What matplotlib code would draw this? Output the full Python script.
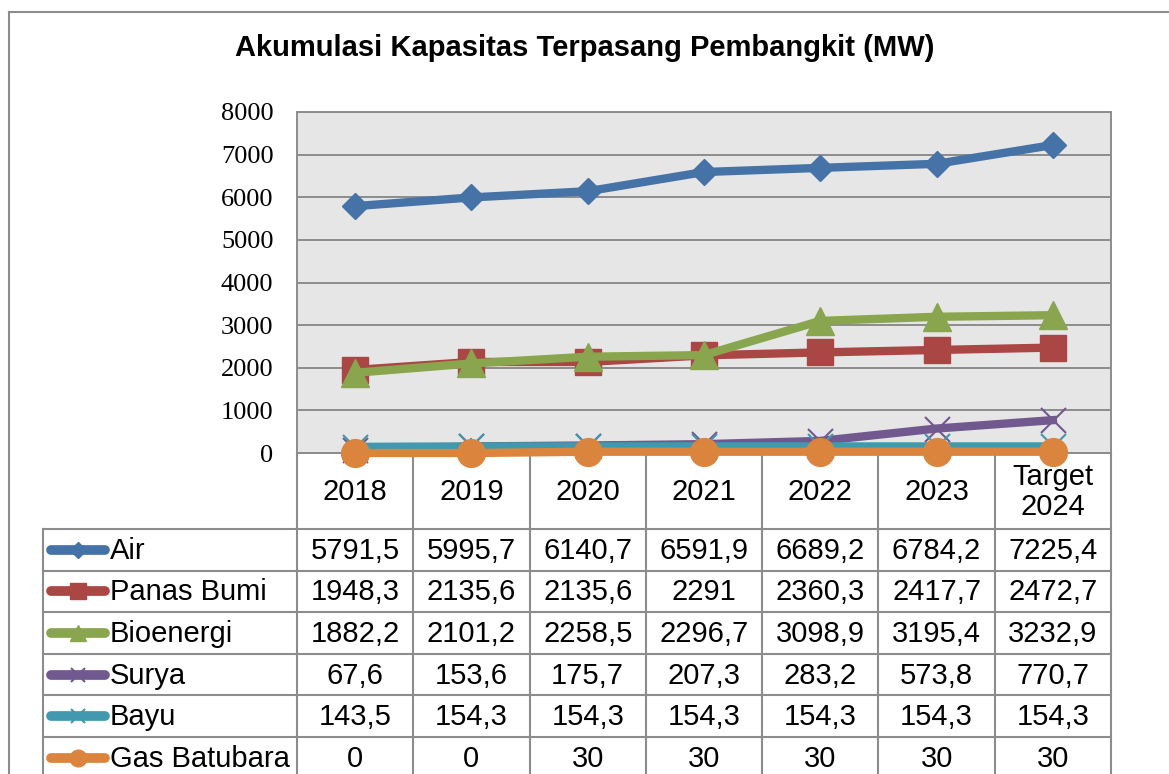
import matplotlib.pyplot as plt
from matplotlib.lines import Line2D

# Chart data
years = ['2018', '2019', '2020', '2021', '2022', '2023', 'Target\n2024']
series_names = ['Air', 'Panas Bumi', 'Bioenergi', 'Surya', 'Bayu', 'Gas Batubara']
air = [5791.5, 5995.7, 6140.7, 6591.9, 6689.2, 6784.2, 7225.4]
panas_bumi = [1948.3, 2135.6, 2135.6, 2291, 2360.3, 2417.7, 2472.7]
bioenergi = [1882.2, 2101.2, 2258.5, 2296.7, 3098.9, 3195.4, 3232.9]
surya = [67.6, 153.6, 175.7, 207.3, 283.2, 573.8, 770.7]
bayu = [143.5, 154.3, 154.3, 154.3, 154.3, 154.3, 154.3]
gas_batubara = [0, 0, 30, 30, 30, 30, 30]
table_text = [
    ['5791,5', '5995,7', '6140,7', '6591,9', '6689,2', '6784,2', '7225,4'],
    ['1948,3', '2135,6', '2135,6', '2291', '2360,3', '2417,7', '2472,7'],
    ['1882,2', '2101,2', '2258,5', '2296,7', '3098,9', '3195,4', '3232,9'],
    ['67,6', '153,6', '175,7', '207,3', '283,2', '573,8', '770,7'],
    ['143,5', '154,3', '154,3', '154,3', '154,3', '154,3', '154,3'],
    ['0', '0', '30', '30', '30', '30', '30'],
]
y_ticks = [0, 1000, 2000, 3000, 4000, 5000, 6000, 7000, 8000]

colors = ['#4572A7', '#AA4643', '#89A54E', '#71588F', '#4198AF', '#DB843D']
values = [air, panas_bumi, bioenergi, surya, bayu, gas_batubara]

W, H = 1169, 774
GRID = '#8c8c8c'
SANS = 'Liberation Sans'

fig = plt.figure(figsize=(W / 100, H / 100), dpi=100)

# pixel geometry of the plot area
px_left, px_right, px_top, px_bottom = 297, 1111, 112, 453
ax = fig.add_axes([px_left / W, 1 - px_bottom / H,
                   (px_right - px_left) / W, (px_bottom - px_top) / H])
ax.set_facecolor('#e6e6e6')
ax.set_xlim(-0.5, len(years) - 0.5)
ax.set_ylim(0, 8000)
ax.set_yticks(y_ticks)
ax.set_yticklabels([str(t) for t in y_ticks], fontfamily='Liberation Serif', fontsize=19)
ax.tick_params(axis='y', length=0, pad=17)
ax.set_xticks([])
for t in y_ticks:
    ax.axhline(t, color=GRID, lw=1.4, zorder=1)
for s in ax.spines.values():
    s.set_color(GRID)
    s.set_linewidth(1.4)

x = list(range(len(years)))
styles = [
    dict(marker='D', markersize=13.5),
    dict(marker='s', markersize=19),
    dict(marker='^', markersize=20),
    dict(marker='x', markersize=18, markeredgewidth=1.5),
    dict(marker='x', markersize=18, markeredgewidth=1.5),
    dict(marker='o', markersize=20),
]
for vals, col, st in zip(values, colors, styles):
    ax.plot(x, vals, color=col, lw=6, markeredgecolor=col, markerfacecolor=col,
            zorder=3, clip_on=False, **st)
    if vals is bayu:
        ax.plot(x, vals, ls='none', marker='|', markersize=12, markeredgewidth=1.5,
                color=col, zorder=3, clip_on=False)

fig.text(585 / W, 1 - 48 / H, 'Akumulasi Kapasitas Terpasang Pembangkit (MW)',
         ha='center', va='center', fontfamily=SANS, fontweight='bold', fontsize=21)

# overlay in pixel coordinates for the data table
ov = fig.add_axes([0, 0, 1, 1], zorder=-1)
ov.set_xlim(0, W)
ov.set_ylim(H, 0)
ov.axis('off')

# outer chart border
ov.plot([9, 9], [12, H], color=GRID, lw=1.5)
ov.plot([9, W], [12, 12], color=GRID, lw=1.5)

col_w = (px_right - px_left) / len(years)
row_h = 41.6
header_bottom = 529
table_left = 43
n_rows = len(series_names)

# vertical lines
for k in range(len(years) + 1):
    xx = px_left + k * col_w
    ov.plot([xx, xx], [px_bottom, H], color=GRID, lw=1.5)
ov.plot([table_left, table_left], [header_bottom, H], color=GRID, lw=1.5)
# horizontal lines
ov.plot([table_left, px_right], [header_bottom, header_bottom], color=GRID, lw=1.5)
for r in range(1, n_rows):
    yy = header_bottom + r * row_h
    ov.plot([table_left, px_right], [yy, yy], color=GRID, lw=1.5)

# header labels
for k, lab in enumerate(years):
    ov.text(px_left + (k + 0.5) * col_w, (px_bottom + header_bottom) / 2 + 1, lab,
            ha='center', va='center', fontfamily=SANS, fontsize=21, linespacing=1.1)

# rows
leg_styles = [
    dict(marker='D', markersize=8),
    dict(marker='s', markersize=12),
    dict(marker='^', markersize=12),
    dict(marker='x', markersize=10, markeredgewidth=1.5),
    dict(marker='x', markersize=10, markeredgewidth=1.5),
    dict(marker='o', markersize=12),
]
for r, name in enumerate(series_names):
    cy = header_bottom + (r + 0.5) * row_h
    col = colors[r]
    ov.add_line(Line2D([51, 105], [cy, cy], color=col, lw=7, solid_capstyle='round'))
    ov.add_line(Line2D([78], [cy], color=col, markeredgecolor=col, markerfacecolor=col,
                       ls='none', **leg_styles[r]))
    ov.text(110, cy + 1, name, ha='left', va='center', fontfamily=SANS, fontsize=21)
    for k, txt in enumerate(table_text[r]):
        ov.text(px_left + (k + 0.5) * col_w, cy + 1, txt, ha='center', va='center',
                fontfamily=SANS, fontsize=21)

fig.savefig('out.png', dpi=100)
